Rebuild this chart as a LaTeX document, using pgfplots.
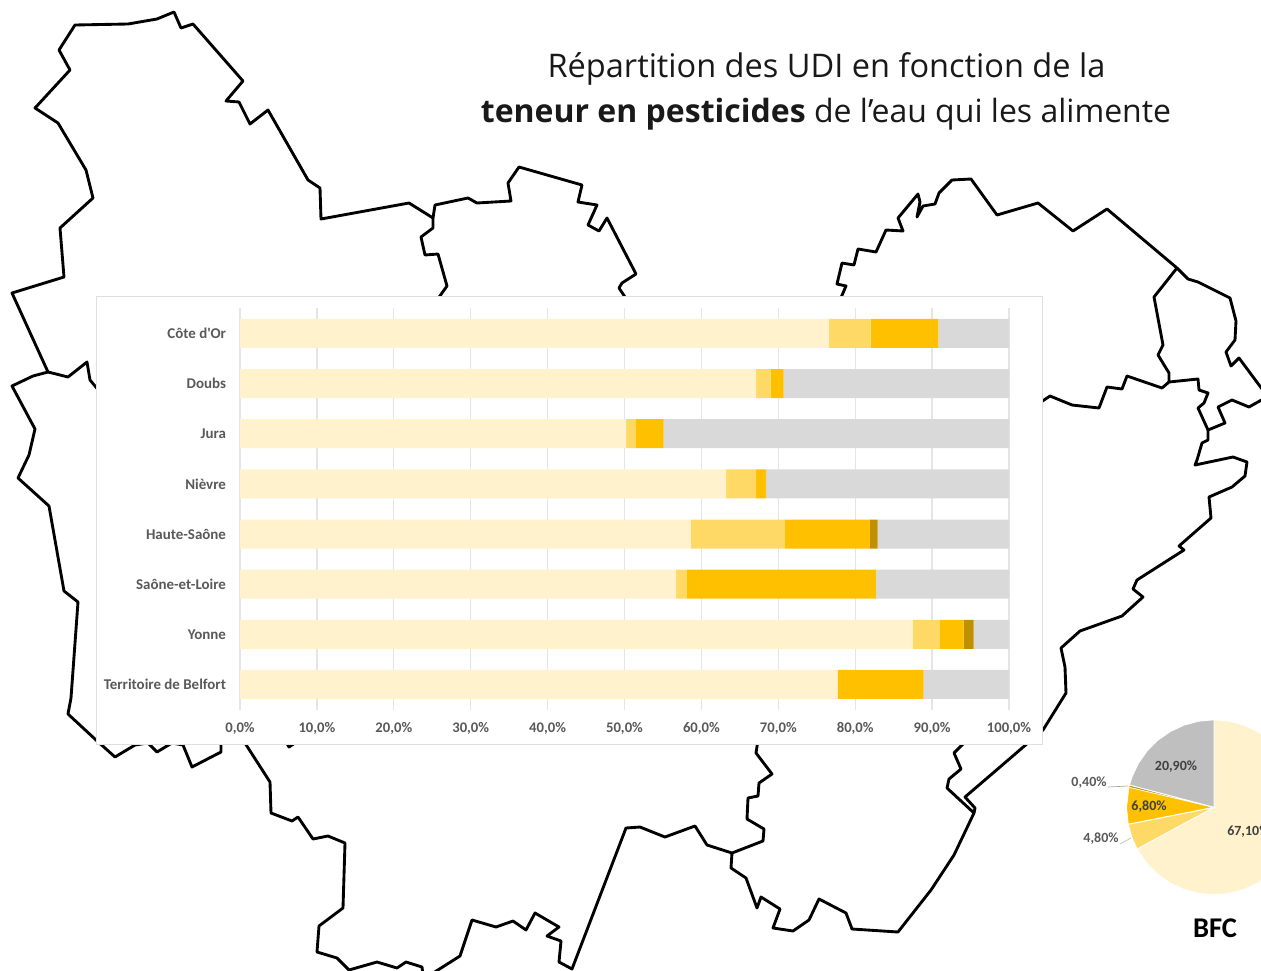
\documentclass[border=0pt]{standalone}
\usepackage{pgfplots}
\usepackage{pgfplotstable}
\pgfplotsset{compat=1.18}
\usepackage{fontspec}
\setmainfont{Open Sans}
\newfontfamily\calfont{Carlito}
\definecolor{c1}{HTML}{FFF2CC}
\definecolor{c2}{HTML}{FFD966}
\definecolor{c3}{HTML}{FFC000}
\definecolor{c4}{HTML}{BF9000}
\definecolor{c5}{HTML}{D9D9D9}
\definecolor{c5p}{HTML}{BFBFBF}
\definecolor{lab}{HTML}{595959}
\definecolor{plab}{HTML}{404040}
\pgfplotstableread{
i a b c d e
0 76.6 5.4 8.8 0 9.2
1 67.1 1.9 1.7 0 29.3
2 50.2 1.2 3.7 0 44.9
3 63.2 3.9 1.3 0 31.6
4 58.6 12.3 11.0 1.0 17.1
5 56.7 1.4 24.6 0 17.3
6 87.5 3.5 3.1 1.3 4.6
7 77.7 0 11.2 0 11.1
}\bars
\pgfplotsset{mapline/.style={black,line width=2.15pt,line join=round,no marks}}
\begin{document}
\begin{tikzpicture}
\path[use as bounding box] (0,0) rectangle (945.75pt,728.25pt);
\clip (0,0) rectangle (945.75pt,728.25pt);
\begin{axis}[at={(0,0)},anchor=south west,width=945.75pt,height=728.25pt,scale only axis,
  xmin=0,xmax=1261,ymin=0,ymax=971,y dir=reverse,hide axis,clip=false]
\addplot[mapline] coordinates {(437,300)(447,286)(438,254)(425,255)(421,237)(433,228)(433,218)(409,203)(321,219)(320,188)(308,180)(268,110)(250,124)(239,102)(226,101)(243,81)(193,24)(181,28)(174,12)(157,19)(128,24)(75,25)(59,50)(70,70)(35,108)(58,123)(86,170)(93,198)(60,228)(64,277)(12,293)(48,372)(33,376)(12,386)(35,429)(29,455)(18,478)(49,506)(64,591)(78,602)(71,698)(68,714)(96,740)(115,757)(135,745)(148,743)(157,752)(172,743)(183,745)(192,767)(221,752)(221,740)};
\addplot[mapline] coordinates {(48,372)(68,377)(87,362)(90,380)(100,392)};
\addplot[mapline] coordinates {(285,740)(289,747)(298,741)};
\addplot[mapline] coordinates {(243,740)(270,782)(271,813)(292,821)(298,817)(313,839)(328,836)(345,843)(343,908)(319,926)(317,952)(337,958)(349,970)(377,962)(397,968)(406,962)(422,967)(423,975)};
\addplot[mapline] coordinates {(430,975)(460,956)(472,920)(496,927)(513,921)(526,930)(535,913)(559,927)(547,936)(561,941)(559,962)(572,969)(626,828)(640,827)(665,837)(695,826)(707,845)(732,853)(763,841)(764,829)(747,819)(748,798)(758,796)(759,783)(772,774)(756,753)(758,740)};
\addplot[mapline] coordinates {(732,853)(731,868)(746,878)(757,908)(761,897)(780,909)(773,928)(793,931)(809,920)(819,899)(846,913)(852,929)(898,932)(931,890)(954,855)(974,813)(947,788)(949,779)(961,769)(954,753)(965,742)};
\addplot[mapline] coordinates {(974,813)(975,808)(965,797)(1000,767)(1043,730)(1066,693)(1065,667)(1061,648)(1080,631)(1122,616)(1143,597)(1133,589)(1137,580)(1184,550)(1179,546)(1211,518)(1209,497)(1232,487)(1245,476)(1247,462)(1233,457)(1195,465)(1197,460)(1202,443)(1208,440)(1208,430)};
\addplot[mapline] coordinates {(1035,406)(1050,396)(1072,405)(1099,408)(1107,387)(1122,389)(1127,376)(1162,388)(1169,382)(1198,379)(1199,390)(1208,393)(1204,403)(1198,408)(1208,430)(1225,423)(1218,407)(1232,400)(1249,407)(1265,398)};
\addplot[mapline] coordinates {(840,300)(846,286)(837,284)(842,263)(854,265)(858,249)(876,252)(886,230)(903,231)(898,218)(918,194)(920,202)(917,217)(923,206)(935,204)(939,193)(952,180)(971,179)(997,215)(1038,203)(1073,231)(1107,209)(1177,268)(1154,297)(1163,345)(1158,355)(1169,373)(1169,382)};
\addplot[mapline] coordinates {(1177,268)(1188,279)(1198,282)(1230,298)(1236,321)(1235,340)(1226,352)(1231,366)(1239,358)(1265,393)};
\addplot[mapline] coordinates {(433,218)(435,205)(468,198)(477,203)(511,201)(508,183)(519,167)(582,185)(578,202)(597,205)(588,225)(599,231)(607,218)(636,274)(622,283)(619,288)(627,300)};
\addplot[fill=white,draw=c5!85!white,line width=0.75pt] coordinates {(96,296)(1042,296)(1042,744)(96,744)} --cycle;
\addplot[draw=black!35,line width=0.5pt,no marks] coordinates {(1108,787)(1128,786)};
\addplot[draw=black!25,line width=0.5pt,no marks] coordinates {(1120,844)(1131,838)};
\node[font=\fontsize{24.4}{28}\selectfont,text=black!90] at (axis cs:826.5,69) {Répartition des UDI en fonction de la};
\node[font=\fontsize{24}{28}\selectfont,text=black!90] at (axis cs:826,114) {\textbf{teneur en pesticides} de l’eau qui les alimente};
\end{axis}
\begin{axis}[at={(180pt,196.125pt)},anchor=south west,width=576.75pt,height=300.85pt,scale only axis,
  xbar stacked,bar width=21.75pt,xmin=0,xmax=100,ymin=-0.5,ymax=7.5,y dir=reverse,
  ytick={0,1,2,3,4,5,6,7},yticklabels={Côte d'Or,Doubs,Jura,Nièvre,Haute-Saône,Saône-et-Loire,Yonne,Territoire de Belfort},
  xtick={0,10,...,100},xticklabels={{0,0\%},{10,0\%},{20,0\%},{30,0\%},{40,0\%},{50,0\%},{60,0\%},{70,0\%},{80,0\%},{90,0\%},{100,0\%}},
  xmajorgrids,grid style={draw=black!10,line width=0.95pt},
  axis line style={draw=none},tick style={draw=none},major tick length=0pt,
  yticklabel style={font=\calfont\bfseries\fontsize{11.2}{13}\selectfont,text=lab,xshift=-7pt},
  xticklabel style={font=\calfont\bfseries\fontsize{11}{13}\selectfont,text=lab,yshift=-6pt}]
\addplot[fill=c1,draw=none] table[x=a,y=i]{\bars};
\addplot[fill=c2,draw=none] table[x=b,y=i]{\bars};
\addplot[fill=c3,draw=none] table[x=c,y=i]{\bars};
\addplot[fill=c4,draw=none] table[x=d,y=i]{\bars};
\addplot[fill=c5,draw=none] table[x=e,y=i]{\bars};
\end{axis}
\begin{axis}[at={(910.5pt,122.775pt)},anchor=center,width=131.25pt,height=131.25pt,scale only axis,
  xmin=-1,xmax=1,ymin=-1,ymax=1,hide axis,clip=false]
\addplot[fill=c1,draw=white,line width=0.7pt,data cs=polar,no marks] coordinates {(0,0)(90,1)(80,1)(70,1)(60,1)(50,1)(40,1)(30,1)(20,1)(10,1)(0,1)(-10,1)(-20,1)(-30,1)(-40,1)(-50,1)(-60,1)(-70,1)(-80,1)(-90,1)(-100,1)(-110,1)(-120,1)(-130,1)(-140,1)(-150,1)(-151.56,1)} --cycle;
\addplot[fill=c2,draw=white,line width=0.7pt,data cs=polar,no marks] coordinates {(0,0)(-151.56,1)(-160,1)(-168.84,1)} --cycle;
\addplot[fill=c3,draw=white,line width=0.7pt,data cs=polar,no marks] coordinates {(0,0)(-168.84,1)(-180,1)(-193.32,1)} --cycle;
\addplot[fill=c4,draw=white,line width=0.4pt,data cs=polar,no marks] coordinates {(0,0)(-193.32,1)(-194.76,1)} --cycle;
\addplot[fill=c5p,draw=white,line width=0.7pt,data cs=polar,no marks] coordinates {(0,0)(-194.76,1)(-200,1)(-210,1)(-220,1)(-230,1)(-240,1)(-250,1)(-260,1)(-270,1)} --cycle;
\end{axis}
\begin{axis}[at={(0,0)},anchor=south west,width=945.75pt,height=728.25pt,scale only axis,
  xmin=0,xmax=1261,ymin=0,ymax=971,y dir=reverse,hide axis,clip=false]
\addplot[draw=none,forget plot] coordinates {(0,0)(1,1)};
\tikzset{pl/.style={font=\calfont\bfseries\fontsize{10.5}{12}\selectfont,text=plab,inner sep=0pt}}
\node[pl,anchor=west] at (axis cs:1227,832) {67,10\%};
\node[pl] at (axis cs:1176,767) {20,90\%};
\node[pl] at (axis cs:1149,807) {6,80\%};
\node[pl,text=lab] at (axis cs:1089,783) {0,40\%};
\node[pl,text=lab] at (axis cs:1101,839) {4,80\%};
\node[font=\calfont\bfseries\fontsize{21.4}{24}\selectfont,text=black,inner sep=0pt] at (axis cs:1215,928) {BFC};
\end{axis}
\end{tikzpicture}
\end{document}
